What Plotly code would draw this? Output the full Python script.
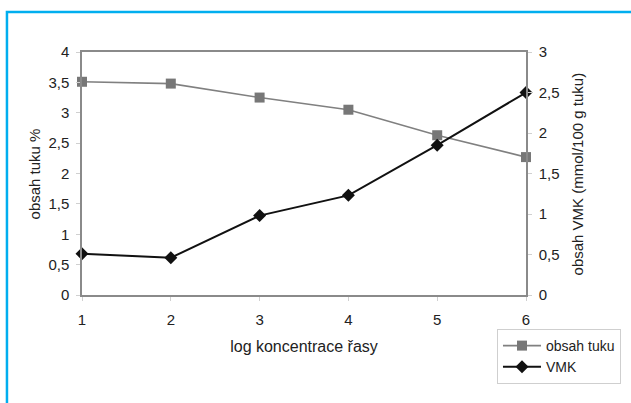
import plotly.graph_objects as go

# log koncentrace řasy (x) with fat content (left axis) and VMK content (right axis)
koncentrace = [1, 2, 3, 4, 5, 6]
obsah_tuku = [3.51, 3.48, 3.25, 3.05, 2.63, 2.27]
vmk = [0.51, 0.46, 0.98, 1.23, 1.85, 2.50]

x_ticks = [1, 2, 3, 4, 5, 6]
left_tickvals = [0, 0.5, 1, 1.5, 2, 2.5, 3, 3.5, 4]
left_ticktext = ["0", "0,5", "1", "1,5", "2", "2,5", "3", "3,5", "4"]
right_tickvals = [0, 0.5, 1, 1.5, 2, 2.5, 3]
right_ticktext = ["0", "0,5", "1", "1,5", "2", "2,5", "3"]

FONT = "Liberation Sans, Arial, sans-serif"
AXIS_GREY = "#8a8a8a"

fig = go.Figure()
fig.add_trace(go.Scatter(
    x=koncentrace, y=obsah_tuku, name="obsah tuku", legendgroup="a",
    mode="lines+markers",
    line=dict(color="#808080", width=1.6),
    marker=dict(symbol="square", size=10, color="#777777"),
    yaxis="y", cliponaxis=False,
))
fig.add_trace(go.Scatter(
    x=koncentrace, y=vmk, name="VMK", legendgroup="b",
    mode="lines+markers",
    line=dict(color="#111111", width=2),
    marker=dict(symbol="diamond", size=10, color="#111111"),
    yaxis="y2", cliponaxis=False,
))

tick_font = dict(family=FONT, size=15, color="#222222")

fig.update_layout(
    width=631, height=403,
    margin=dict(l=82, r=105, t=52, b=108, autoexpand=False),
    paper_bgcolor="white", plot_bgcolor="white",
    font=dict(family=FONT, color="#222222"),
    showlegend=True,
    xaxis=dict(
        range=[1, 6], tickvals=x_ticks, showgrid=False, zeroline=False,
        showline=True, linecolor=AXIS_GREY, linewidth=1.5, mirror=True,
        ticks="outside", ticklen=4, tickcolor="#d0d0d0", tickfont=tick_font,
        ticklabelstandoff=6,
        title=dict(text="log koncentrace řasy", font=dict(family=FONT, size=16), standoff=14),
    ),
    yaxis=dict(
        range=[0, 4], tickvals=left_tickvals, ticktext=left_ticktext,
        showgrid=False, zeroline=False,
        showline=True, linecolor=AXIS_GREY, linewidth=1.5,
        ticks="outside", ticklen=4, tickcolor="#d0d0d0", tickfont=tick_font,
        ticklabelstandoff=4,
    ),
    yaxis2=dict(
        range=[0, 3], tickvals=right_tickvals, ticktext=right_ticktext,
        overlaying="y", side="right", showgrid=False, zeroline=False,
        showline=True, linecolor=AXIS_GREY, linewidth=1.5,
        ticks="outside", ticklen=4, tickcolor="#d0d0d0", tickfont=tick_font,
        ticklabelstandoff=4,
    ),
    legend=dict(
        xref="container", yref="container",
        x=0.7876, y=0.1836, xanchor="left", yanchor="top",
        bgcolor="white", bordercolor="#cfcfcf", borderwidth=1,
        font=dict(family=FONT, size=14, color="#222222"),
        tracegroupgap=0, itemwidth=38,
    ),
    annotations=[
        dict(text="obsah tuku %", xref="paper", yref="paper", x=-0.106, y=0.5,
             textangle=-90, showarrow=False, xanchor="center", yanchor="middle",
             font=dict(family=FONT, size=15)),
        dict(text="obsah VMK (mmol/100 g tuku)", xref="paper", yref="paper", x=1.117, y=0.5,
             textangle=-90, showarrow=False, xanchor="center", yanchor="middle",
             font=dict(family=FONT, size=15)),
    ],
    shapes=[
        # blue frame around the figure
        dict(type="rect", xref="paper", yref="paper",
             x0=-0.169, x1=2.0, y0=-1.0, y1=1.1646,
             line=dict(color="#00AEEF", width=2.5), fillcolor="rgba(0,0,0,0)", layer="below"),
    ],
)

fig.write_html("out.html")
